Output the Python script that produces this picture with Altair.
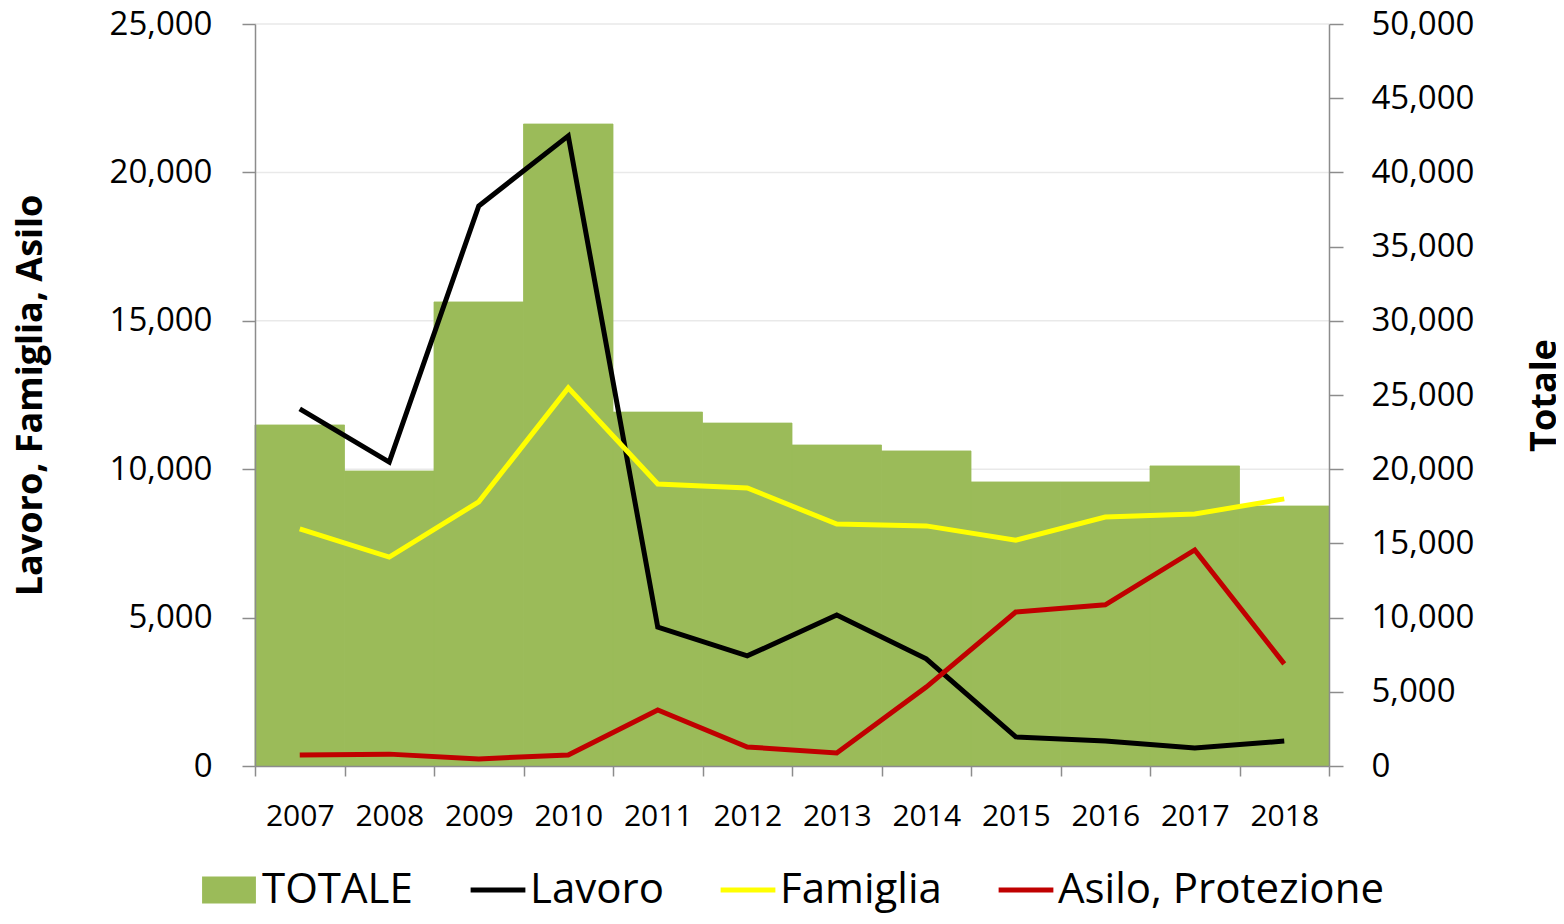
import altair as alt
import pandas as pd

years = ["2007", "2008", "2009", "2010", "2011", "2012", "2013", "2014", "2015", "2016", "2017", "2018"]
totale = [22980, 19880, 31270, 43260, 23850, 23110, 21630, 21230, 19140, 19140, 20220, 17520]
lavoro = [12030, 10240, 18870, 21230, 4680, 3710, 5090, 3610, 980, 840, 610, 840]
famiglia = [7990, 7040, 8900, 12740, 9500, 9370, 8150, 8090, 7610, 8390, 8490, 9000]
asilo = [370, 400, 240, 370, 1890, 640, 440, 2660, 5190, 5430, 7280, 3440]

series_names = ["Lavoro", "Famiglia", "Asilo, Protezione"]
series_colors = ["#000000", "#FFFF00", "#C00000"]
left_ticks = [0, 5000, 10000, 15000, 20000, 25000]
right_ticks = [0, 5000, 10000, 15000, 20000, 25000, 30000, 35000, 40000, 45000, 50000]
grid_vals = [5000, 10000, 15000, 20000, 25000]

FONT = "Open Sans"
AX = "#8c8c8c"
GREEN = "#9BBB59"

bar_df = pd.DataFrame({"anno": years, "valore": totale, "serie": ["TOTALE"] * len(years)})
rows = []
for name, vals in zip(series_names, [lavoro, famiglia, asilo]):
    for yr, v in zip(years, vals):
        rows.append({"anno": yr, "valore": v, "serie": name})
line_df = pd.DataFrame(rows)
grid_df = pd.DataFrame({"g": grid_vals})

x_enc = alt.X(
    "anno:N", sort=years,
    scale=alt.Scale(paddingInner=0, paddingOuter=0),
    axis=alt.Axis(title=None, labelAngle=0, tickBand="extent", labelFontSize=30, labelFont=FONT,
                  labelColor="#000000", labelPadding=25, tickSize=10, tickColor=AX, tickWidth=1.5,
                  domainColor=AX, domainWidth=1.5, grid=False, zindex=1),
)

grid = alt.Chart(grid_df).mark_rule(color="#e9e9e9", strokeWidth=1.5).encode(
    y=alt.Y("g:Q", scale=alt.Scale(domain=[0, 25000], nice=False), axis=None)
)

bars = alt.Chart(bar_df).mark_bar(stroke=GREEN, strokeWidth=0.8).encode(
    x=x_enc,
    y=alt.Y("valore:Q", scale=alt.Scale(domain=[0, 50000], nice=False),
            axis=alt.Axis(orient="right", values=right_ticks, format=",d", title="Totale",
                          labelFontSize=33, labelFont=FONT, labelColor="#000000", labelPadding=28,
                          tickSize=14, tickColor=AX, tickWidth=1.5, domainColor=AX, domainWidth=1.5,
                          grid=False, zindex=1,
                          titleFont=FONT, titleFontSize=36, titleFontWeight="bold", titleColor="#000000",
                          titleAngle=-90, titleX=215, titleY=371, titleAlign="center",
                          titleBaseline="middle")),
    fill=alt.Fill("serie:N", scale=alt.Scale(domain=["TOTALE"], range=[GREEN]),
                  legend=alt.Legend(orient="none", legendX=-53, legendY=839, title=None, padding=0,
                                    symbolType="M-1,-0.5L1,-0.5L1,0.5L-1,0.5Z", symbolSize=2900,
                                    symbolStrokeWidth=0, labelFontSize=42, labelFont=FONT,
                                    labelColor="#000000", labelOffset=6, labelLimit=600)),
)

lines = alt.Chart(line_df).mark_line(strokeWidth=5).encode(
    x=x_enc,
    y=alt.Y("valore:Q", scale=alt.Scale(domain=[0, 25000], nice=False),
            axis=alt.Axis(orient="left", values=left_ticks, format=",d", title="Lavoro, Famiglia, Asilo",
                          labelFontSize=33, labelFont=FONT, labelColor="#000000", labelPadding=30,
                          tickSize=13, tickColor=AX, tickWidth=1.5, domainColor=AX, domainWidth=1.5,
                          grid=False, zindex=1,
                          titleFont=FONT, titleFontSize=36, titleFontWeight="bold", titleColor="#000000",
                          titleAngle=-90, titleX=-225, titleY=371, titleAlign="center",
                          titleBaseline="middle")),
    stroke=alt.Stroke("serie:N", sort=series_names,
                      scale=alt.Scale(domain=series_names, range=series_colors),
                      legend=alt.Legend(orient="none", direction="horizontal", legendX=213, legendY=836,
                                        title=None, padding=0, symbolType="stroke", symbolSize=3000,
                                        symbolStrokeWidth=5, labelFontSize=42, labelFont=FONT,
                                        labelColor="#000000", labelOffset=2, columnPadding=46,
                                        labelLimit=600)),
)

chart = alt.layer(grid, bars, lines).resolve_scale(y="independent").properties(
    width=1074, height=742,
    autosize=alt.AutoSizeParams(type="none"),
    padding={"left": 247, "top": 16, "right": 227, "bottom": 150},
).configure_view(strokeWidth=0)

chart.save("out.html", embed_options={"renderer": "svg", "actions": False})
